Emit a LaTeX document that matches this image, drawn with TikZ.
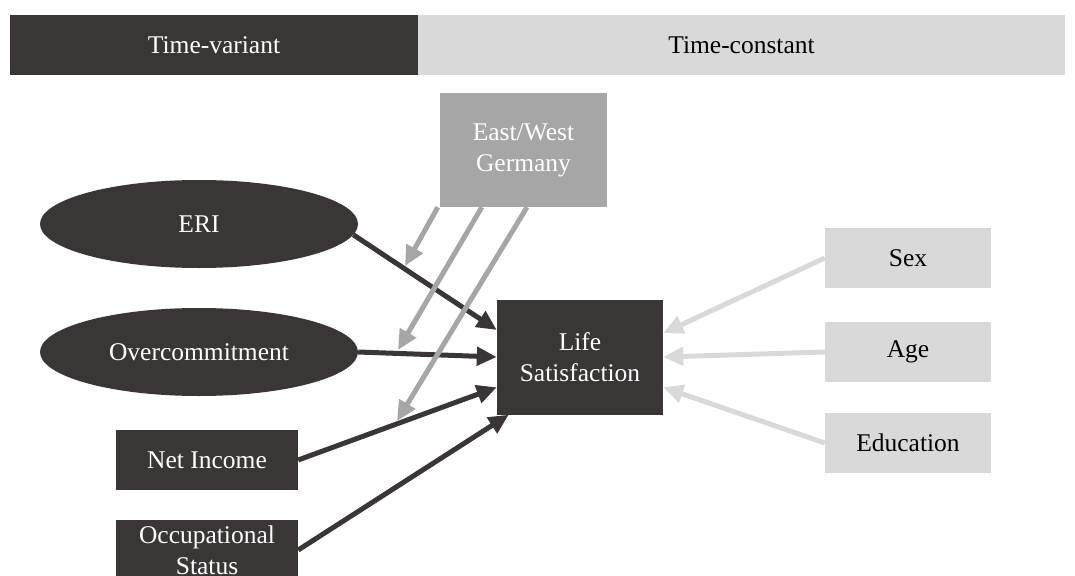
\documentclass[tikz,border=0pt]{standalone}
\usepackage{fontspec}
\setmainfont{Liberation Serif}
\usetikzlibrary{arrows.meta,shapes.geometric}
\definecolor{darkc}{HTML}{3B3636}
\definecolor{midc}{HTML}{A6A6A6}
\definecolor{lightc}{HTML}{D9D9D9}
\begin{document}
\begin{tikzpicture}[x=1pt,y=-1pt,
  font=\fontsize{25.5}{31}\selectfont,
  darkbox/.style={rectangle, fill=darkc, text=white, draw=none, inner sep=0pt, align=center, minimum width=182pt, minimum height=60pt},
  darkell/.style={ellipse, fill=darkc, text=white, draw=none, inner sep=0pt, minimum width=318pt, minimum height=88pt},
  lightbox/.style={rectangle, fill=lightc, text=black, draw=none, inner sep=0pt, align=center, minimum width=166pt, minimum height=60pt},
  midbox/.style={rectangle, fill=midc, text=white, draw=none, inner sep=0pt, align=center},
  darkarrow/.style={draw=darkc, line width=5pt, -{Triangle[length=20pt,width=18pt]}},
  midarrow/.style={draw=midc, line width=5pt, -{Triangle[length=20pt,width=18pt]}},
  lightarrow/.style={draw=lightc, line width=5pt, -{Triangle[length=20pt,width=18pt]}}
]
\useasboundingbox (0,0) rectangle (1075,575);

% header
\node[rectangle, fill=darkc, text=white, inner sep=0pt, minimum width=408pt, minimum height=60pt] (tv) at (214,45) {Time-variant};
\node[rectangle, fill=lightc, text=black, inner sep=0pt, minimum width=647pt, minimum height=60pt] (tc) at (741.5,45) {Time-constant};

% nodes
\node[midbox, minimum width=167pt, minimum height=114pt] (ew) at (523.5,150) {East/West\\Germany};
\node[darkell] (eri) at (199,224) {ERI};
\node[darkell] (oc) at (199,352) {Overcommitment};
\node[darkbox] (ni) at (207,460) {Net Income};
\node[darkbox] (os) at (207,550) {Occupational\\Status};
\node[darkbox, minimum width=166pt, minimum height=115pt] (ls) at (580,357) {Life\\Satisfaction};
\node[lightbox] (sex) at (908,258) {Sex};
\node[lightbox] (age) at (908,352) {Age};
\node[lightbox] (edu) at (908,443) {Education};

% dark arrows
\draw[darkarrow] (eri.-4) -- (ls.162);
\draw[darkarrow] (oc.east) -- (ls.180);
\draw[darkarrow] (ni.east) -- (ls.200);
\draw[darkarrow] (os.east) -- (ls.219);

% moderation targets on the dark arrows
\coordinate (m1) at (405,266);
\coordinate (m2) at (398,350);
\coordinate (m3) at (397,421);

% gray arrows
\draw[midarrow] ([xshift=-2pt]ew.south west) -- (m1);
\draw[midarrow] ([xshift=42pt]ew.south west) -- (m2);
\draw[midarrow] ([xshift=3.5pt]ew.south) -- (m3);

% light arrows
\draw[lightarrow] (sex.west) -- (ls.16);
\draw[lightarrow] (age.west) -- (ls.0);
\draw[lightarrow] (edu.west) -- (ls.-20);
\end{tikzpicture}
\end{document}
